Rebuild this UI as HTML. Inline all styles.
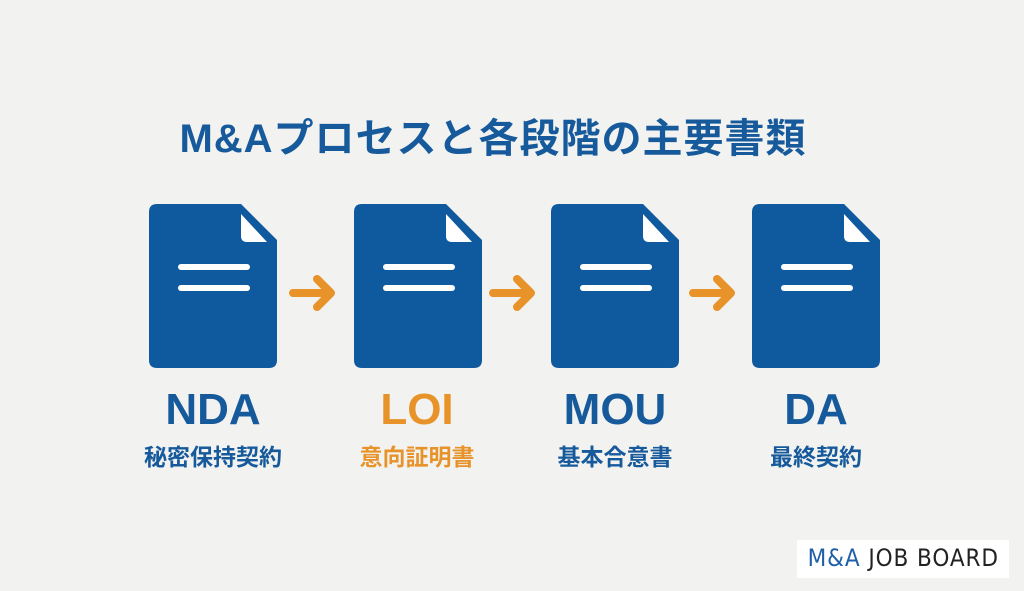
<!DOCTYPE html>
<html><head><meta charset="utf-8"><style>
body{margin:0;width:1024px;height:591px;background:#f2f2f0;overflow:hidden;position:relative;font-family:"Liberation Sans","Noto Sans CJK JP",sans-serif}
.t{position:absolute;white-space:nowrap;text-align:center;font-weight:bold}
</style></head><body>
<div class="t" style="left:0;width:986px;top:106px;font-size:40px;letter-spacing:1px;color:#165a9c">M&amp;Aプロセスと各段階の主要書類</div>
<svg width="1024" height="591" style="position:absolute;left:0;top:0">
<defs>
<g id="doc">
<path d="M8 0 H92 L128 36 V156 Q128 164 120 164 H8 Q0 164 0 156 V8 Q0 0 8 0Z" fill="#0f5a9f"/>
<path d="M92 10 L118 38 H98 Q92 38 92 32Z" fill="#fff"/>
<rect x="29" y="60" width="72" height="6" rx="3" fill="#fff"/>
<rect x="29" y="81" width="72" height="6" rx="3" fill="#fff"/>
</g>
<g id="arr" fill="none" stroke="#e8922a" stroke-width="8" stroke-linecap="round" stroke-linejoin="round">
<path d="M0 18 H38 M24 4 L38 18 L24 32"/>
</g>
</defs>
<use href="#doc" x="149" y="204"/>
<use href="#doc" x="354" y="204"/>
<use href="#doc" x="551" y="204"/>
<use href="#doc" x="752" y="204"/>
<use href="#arr" x="293" y="275"/>
<use href="#arr" x="493" y="275"/>
<use href="#arr" x="693" y="275"/>
</svg>
<div class="t" style="left:113px;width:200px;top:385px;font-size:44px;color:#165a9c">NDA</div>
<div class="t" style="left:317px;width:200px;top:385px;font-size:44px;color:#e8922a">LOI</div>
<div class="t" style="left:515px;width:200px;top:385px;font-size:44px;color:#165a9c">MOU</div>
<div class="t" style="left:716px;width:200px;top:385px;font-size:44px;color:#165a9c">DA</div>
<div class="t" style="left:113px;width:200px;top:438px;font-size:23px;color:#165a9c">秘密保持契約</div>
<div class="t" style="left:317px;width:200px;top:438px;font-size:23px;color:#e8922a">意向証明書</div>
<div class="t" style="left:515px;width:200px;top:438px;font-size:23px;color:#165a9c">基本合意書</div>
<div class="t" style="left:716px;width:200px;top:438px;font-size:23px;color:#165a9c">最終契約</div>
<div style="position:absolute;left:797px;top:540px;width:212px;height:38px;background:#fff"></div>
<div class="t" style="left:797px;width:212px;top:544px;font-size:24px;font-weight:normal;letter-spacing:1px;font-family:'DejaVu Sans',sans-serif;transform:scaleX(0.9)"><span style="color:#1d5fa8">M&amp;A</span> <span style="color:#222">JOB BOARD</span></div>
</body></html>
